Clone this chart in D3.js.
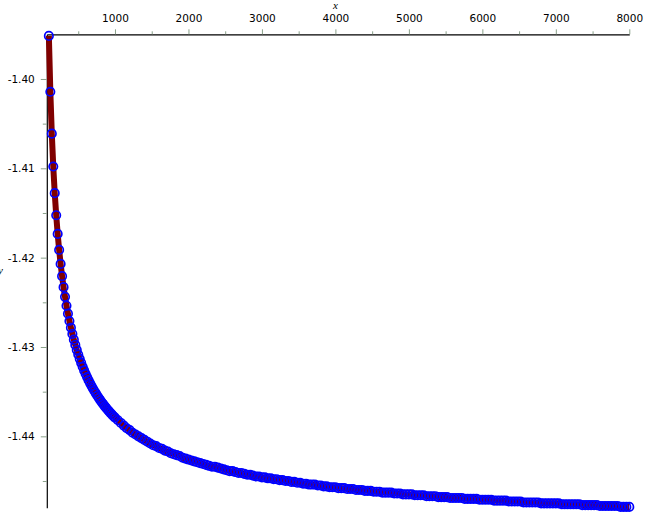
<!DOCTYPE html>
<html>
<head>
<meta charset="utf-8">
<script src="https://cdn.jsdelivr.net/npm/d3@7"></script>
<style>
  body { margin: 0; background: #fff; }
  .tick line { stroke: #8aa08a; }
</style>
</head>
<body>
<script>
// x sample positions (20 apart up to 1000, then 40 apart)
const xValues = [
  100, 120, 140, 160, 180, 200, 220, 240, 260, 280,
  300, 320, 340, 360, 380, 400, 420, 440, 460, 480,
  500, 520, 540, 560, 580, 600, 620, 640, 660, 680,
  700, 720, 740, 760, 780, 800, 820, 840, 860, 880,
  900, 920, 940, 960, 980, 1000,
  1040, 1080, 1120, 1160, 1200, 1240, 1280, 1320, 1360, 1400,
  1440, 1480, 1520, 1560, 1600, 1640, 1680, 1720, 1760, 1800,
  1840, 1880, 1920, 1960, 2000, 2040, 2080, 2120, 2160, 2200,
  2240, 2280, 2320, 2360, 2400, 2440, 2480, 2520, 2560, 2600,
  2640, 2680, 2720, 2760, 2800, 2840, 2880, 2920, 2960, 3000,
  3040, 3080, 3120, 3160, 3200, 3240, 3280, 3320, 3360, 3400,
  3440, 3480, 3520, 3560, 3600, 3640, 3680, 3720, 3760, 3800,
  3840, 3880, 3920, 3960, 4000, 4040, 4080, 4120, 4160, 4200,
  4240, 4280, 4320, 4360, 4400, 4440, 4480, 4520, 4560, 4600,
  4640, 4680, 4720, 4760, 4800, 4840, 4880, 4920, 4960, 5000,
  5040, 5080, 5120, 5160, 5200, 5240, 5280, 5320, 5360, 5400,
  5440, 5480, 5520, 5560, 5600, 5640, 5680, 5720, 5760, 5800,
  5840, 5880, 5920, 5960, 6000, 6040, 6080, 6120, 6160, 6200,
  6240, 6280, 6320, 6360, 6400, 6440, 6480, 6520, 6560, 6600,
  6640, 6680, 6720, 6760, 6800, 6840, 6880, 6920, 6960, 7000,
  7040, 7080, 7120, 7160, 7200, 7240, 7280, 7320, 7360, 7400,
  7440, 7480, 7520, 7560, 7600, 7640, 7680, 7720, 7760, 7800,
  7840, 7880, 7920, 7960, 8000
];

// y values
const yValues = [
  -1.39518, -1.40143, -1.40612, -1.40980, -1.41278, -1.41525, -1.41734, -1.41913, -1.42070, -1.42207,
  -1.42330, -1.42439, -1.42538, -1.42627, -1.42709, -1.42784, -1.42854, -1.42918, -1.42977, -1.43033,
  -1.43084, -1.43133, -1.43178, -1.43221, -1.43262, -1.43300, -1.43336, -1.43371, -1.43404, -1.43435,
  -1.43465, -1.43493, -1.43520, -1.43546, -1.43571, -1.43595, -1.43618, -1.43640, -1.43662, -1.43682,
  -1.43702, -1.43721, -1.43740, -1.43757, -1.43775, -1.43791,
  -1.4382, -1.4385, -1.4388, -1.4391, -1.4393, -1.4396, -1.4398, -1.4400, -1.4402, -1.4404,
  -1.4406, -1.4408, -1.4410, -1.4411, -1.4413, -1.4414, -1.4416, -1.4417, -1.4419, -1.4420,
  -1.4421, -1.4422, -1.4424, -1.4425, -1.4426, -1.4427, -1.4428, -1.4429, -1.4430, -1.4431,
  -1.4432, -1.4433, -1.4434, -1.4434, -1.4435, -1.4436, -1.4437, -1.4438, -1.4439, -1.4439,
  -1.4440, -1.4441, -1.4441, -1.4442, -1.4443, -1.4443, -1.4444, -1.4445, -1.4445, -1.4446,
  -1.4446, -1.4447, -1.4447, -1.4448, -1.4448, -1.4449, -1.4449, -1.4450, -1.4450, -1.4451,
  -1.4451, -1.4452, -1.4452, -1.4453, -1.4453, -1.4454, -1.4454, -1.4454, -1.4455, -1.4455,
  -1.4456, -1.4456, -1.4457, -1.4457, -1.4457, -1.4458, -1.4458, -1.4458, -1.4459, -1.4459,
  -1.4459, -1.4460, -1.4460, -1.4460, -1.4461, -1.4461, -1.4461, -1.4462, -1.4462, -1.4462,
  -1.4463, -1.4463, -1.4463, -1.4463, -1.4464, -1.4464, -1.4464, -1.4465, -1.4465, -1.4465,
  -1.4465, -1.4466, -1.4466, -1.4466, -1.4466, -1.4467, -1.4467, -1.4467, -1.4467, -1.4468,
  -1.4468, -1.4468, -1.4468, -1.4469, -1.4469, -1.4469, -1.4469, -1.4469, -1.4470, -1.4470,
  -1.4470, -1.4470, -1.4470, -1.4471, -1.4471, -1.4471, -1.4471, -1.4471, -1.4472, -1.4472,
  -1.4472, -1.4472, -1.4472, -1.4473, -1.4473, -1.4473, -1.4473, -1.4473, -1.4474, -1.4474,
  -1.4474, -1.4474, -1.4474, -1.4474, -1.4475, -1.4475, -1.4475, -1.4475, -1.4475, -1.4475,
  -1.4475, -1.4476, -1.4476, -1.4476, -1.4476, -1.4476, -1.4476, -1.4476, -1.4477, -1.4477,
  -1.4477, -1.4477, -1.4477, -1.4477, -1.4478, -1.4478, -1.4478, -1.4478, -1.4478, -1.4478,
  -1.4478, -1.4479, -1.4479, -1.4479, -1.4479
];

const xTicks = [1000, 2000, 3000, 4000, 5000, 6000, 7000, 8000];
const xMinorTicks = [500, 1500, 2500, 3500, 4500, 5500, 6500, 7500];
const yTicks = [-1.40, -1.41, -1.42, -1.43, -1.44];
const yMinorTicks = [-1.405, -1.415, -1.425, -1.435, -1.445];

const width = 648, height = 524;
const svg = d3.select("body").append("svg")
    .attr("width", width)
    .attr("height", height)
    .style("background", "#fff");

const points = xValues.map((x, i) => ({x: x, y: yValues[i]}))
    .filter(d => d.y !== undefined);

// Scales
const xScale = d3.scaleLinear().domain([72, 8000]).range([46.8, 629.3]);
const yScale = d3.scaleLinear().domain([-1.448, -1.395]).range([507.8, 34.3]);

const font = "'DejaVu Sans', Verdana, sans-serif";

// x axis along the top
svg.append("g")
    .attr("transform", "translate(0," + yScale(-1.395) + ")")
    .call(d3.axisTop(xScale)
        .tickValues(xTicks)
        .tickSizeInner(5)
        .tickSizeOuter(0)
        .tickPadding(7)
        .tickFormat(d3.format("d")));
svg.append("g")
    .attr("transform", "translate(0," + yScale(-1.395) + ")")
    .call(d3.axisTop(xScale).tickValues(xMinorTicks).tickSize(3).tickFormat(""))
    .select(".domain").remove();

// y axis on the left
svg.append("g")
    .attr("transform", "translate(" + xScale(72) + ",0)")
    .call(d3.axisLeft(yScale)
        .tickValues(yTicks)
        .tickSizeInner(6)
        .tickSizeOuter(0)
        .tickPadding(6)
        .tickFormat(d => d.toFixed(2)));
svg.append("g")
    .attr("transform", "translate(" + xScale(72) + ",0)")
    .call(d3.axisLeft(yScale).tickValues(yMinorTicks).tickSize(4).tickFormat(""))
    .select(".domain").remove();

svg.selectAll(".domain").attr("stroke", "#000").attr("stroke-width", 1.2);
svg.selectAll(".tick text")
    .attr("fill", "#000")
    .style("font-family", font)
    .style("font-size", "10.5px");

// axis titles
svg.append("text")
    .attr("x", xScale(4000))
    .attr("y", 9)
    .attr("text-anchor", "middle")
    .style("font-family", "'Liberation Serif', serif")
    .style("font-style", "italic")
    .style("font-size", "11px")
    .text("x");
svg.append("text")
    .attr("x", -2)
    .attr("y", 274)
    .style("font-family", "'Liberation Serif', serif")
    .style("font-style", "italic")
    .style("font-size", "11px")
    .text("y");

// curve
const line = d3.line()
    .x(d => xScale(d.x))
    .y(d => yScale(d.y));
svg.append("path")
    .datum(points)
    .attr("d", line)
    .attr("fill", "none")
    .attr("stroke", "#800000")
    .attr("stroke-width", 6)
    .attr("stroke-linejoin", "round");

// point markers
svg.append("g").selectAll("circle")
    .data(points)
    .enter().append("circle")
    .attr("cx", d => xScale(d.x))
    .attr("cy", d => yScale(d.y))
    .attr("r", 4.2)
    .attr("fill", "none")
    .attr("stroke", "#0000ff")
    .attr("stroke-width", 1.7);
</script>
</body>
</html>
